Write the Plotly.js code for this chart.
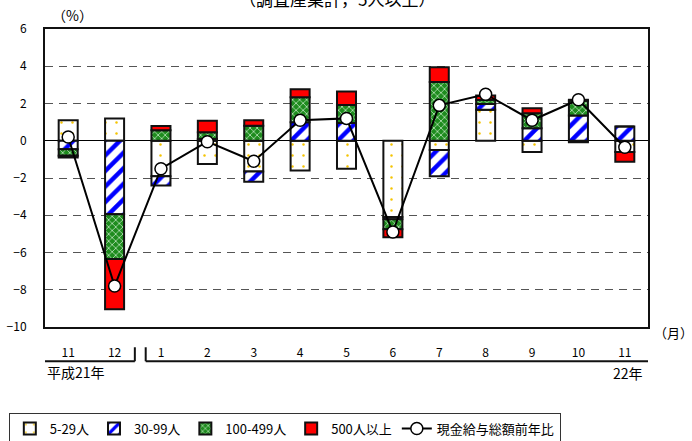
<!DOCTYPE html>
<html>
<head>
<meta charset="utf-8">
<script src="https://cdn.plot.ly/plotly-3.0.1.min.js"></script>
<style>html,body{margin:0;padding:0;background:#fff;}#chart{width:692px;height:441px;}</style>
</head>
<body>
<div id="chart"></div>
<script>
// Data (percentage-point contributions by establishment size)
const positions = [0,1,2,3,4,5,6,7,8,9,10,11,12];
const monthLabels = ["11","12","1","2","3","4","5","6","7","8","9","10","11"];
const s5_29    = [1.1, 1.2, -1.9, -1.25, -1.65, -1.6, -1.5, -4.1, -0.5, 1.67, -0.6, -0.08, -0.6];
const s30_99   = [-0.45, -3.95, -0.5, 0.1, -0.55, 1.0, 0.95, -0.12, -1.4, 0.3, 0.67, 1.35, 0.76];
const s100_499 = [-0.35, -2.4, 0.57, 0.35, 0.8, 1.33, 0.97, -0.53, 3.15, 0.22, 0.8, 0.8, 0];
const s500     = [-0.1, -2.7, 0.22, 0.63, 0.3, 0.43, 0.72, -0.43, 0.8, 0.24, 0.27, 0.05, -0.53];
const totalYoY = [0.2, -7.8, -1.5, -0.05, -1.1, 1.1, 1.2, -4.9, 1.9, 2.5, 1.1, 2.2, -0.35];
const seriesNames = ["5-29人", "30-99人", "100-499人", "500人以上", "現金給与総額前年比"];
const yTicks = [6,4,2,0,-2,-4,-6,-8,-10];

const FONT = "Noto Sans CJK JP, sans-serif";
const edge = {color: "#111", width: 2};

const traces = [
  {type:"bar", x:positions, y:s5_29, name:seriesNames[0],
   marker:{color:"#ffffff", line:edge,
     pattern:{shape:".", fillmode:"replace", bgcolor:"#ffffff", fgcolor:"#f5c400", size:11, solidity:0.04}}},
  {type:"bar", x:positions, y:s30_99, name:seriesNames[1],
   marker:{color:"#ffffff", line:edge,
     pattern:{shape:"/", fillmode:"replace", bgcolor:"#ffffff", fgcolor:"#0000ff", size:11, solidity:0.4}}},
  {type:"bar", x:positions, y:s100_499, name:seriesNames[2],
   marker:{color:"#1e8c1e", line:edge,
     pattern:{shape:"x", fillmode:"replace", bgcolor:"#1e8c1e", fgcolor:"#d8f0d8", size:5, solidity:0.25}}},
  {type:"bar", x:positions, y:s500, name:seriesNames[3],
   marker:{color:"#ff0000", line:edge}},
  {type:"scatter", mode:"lines+markers", x:positions, y:totalYoY, name:seriesNames[4],
   line:{color:"#000", width:2},
   marker:{symbol:"circle", size:12, color:"#ffffff", line:{color:"#000", width:1.5}}}
];

const layout = {
  width:692, height:441,
  margin:{l:45, r:44, t:29, b:114, autoexpand:false},
  paper_bgcolor:"#fff", plot_bgcolor:"#fff",
  font:{family:FONT, size:12, color:"#000"},
  barmode:"relative", bargap:0.59,
  showlegend:true,
  legend:{orientation:"h", x:-0.06, xanchor:"left", y:-0.287, yanchor:"top",
    bordercolor:"#333", borderwidth:1, font:{family:FONT, size:13},
    itemwidth:30, traceorder:"normal"},
  xaxis:{range:[-0.5,12.5], tickvals:positions, ticktext:monthLabels,
    showgrid:false, zeroline:false, ticks:"", ticklabelstandoff:14,
    showline:true, mirror:true, linecolor:"#111", linewidth:2,
    tickfont:{family:FONT, size:12}},
  yaxis:{range:[-10,6], tickvals:yTicks, ticktext:yTicks.map(v=>v<0?"−"+Math.abs(v):String(v)),
    showgrid:true, gridcolor:"#555", gridwidth:1, griddash:"8px,6px",
    zeroline:true, zerolinecolor:"#000", zerolinewidth:1,
    ticks:"", ticklabelstandoff:14,
    showline:true, mirror:true, linecolor:"#111", linewidth:2,
    tickfont:{family:FONT, size:12}},
  shapes:[
    {type:"line", xref:"paper", yref:"paper", x0:0, x1:0.149, y0:-0.115, y1:-0.115, line:{color:"#111", width:2}},
    {type:"line", xref:"paper", yref:"paper", x0:0.149, x1:0.149, y0:-0.068, y1:-0.115, line:{color:"#111", width:2}},
    {type:"line", xref:"paper", yref:"paper", x0:0.167, x1:0.167, y0:-0.068, y1:-0.115, line:{color:"#111", width:2}},
    {type:"line", xref:"paper", yref:"paper", x0:0.167, x1:1, y0:-0.115, y1:-0.115, line:{color:"#111", width:2}}
  ],
  annotations:[
    {text:"（調査産業計，5人以上）", xref:"paper", yref:"paper", x:0.485, y:1.1007, xanchor:"center", yanchor:"middle",
     showarrow:false, font:{family:FONT, size:17}},
    {text:"（%）", xref:"paper", yref:"paper", x:0.008, y:1.047, xanchor:"left", yanchor:"middle",
     showarrow:false, font:{family:FONT, size:14}},
    {text:"（月）", xref:"paper", yref:"paper", x:1.0066, y:-0.017, xanchor:"left", yanchor:"middle",
     showarrow:false, font:{family:FONT, size:13}},
    {text:"平成21年", xref:"paper", yref:"paper", x:0, y:-0.151, xanchor:"left", yanchor:"middle",
     showarrow:false, font:{family:FONT, size:14}},
    {text:"22年", xref:"paper", yref:"paper", x:0.995, y:-0.155, xanchor:"right", yanchor:"middle",
     showarrow:false, font:{family:FONT, size:14}}
  ]
};

Plotly.newPlot("chart", traces, layout, {displayModeBar:false, staticPlot:true});
</script>
</body>
</html>
